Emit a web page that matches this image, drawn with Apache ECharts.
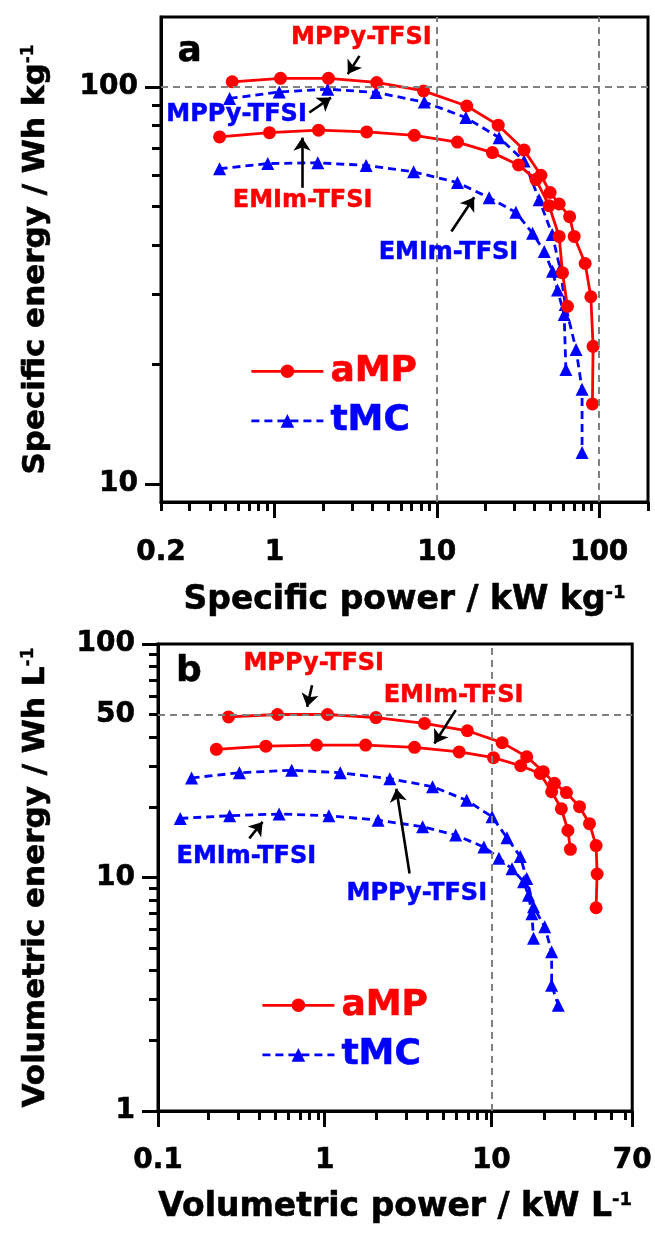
<!DOCTYPE html>
<html>
<head>
<meta charset="utf-8">
<script src="https://cdn.jsdelivr.net/npm/echarts@6/dist/echarts.min.js"></script>
<style>
  html, body { margin: 0; padding: 0; background: #fff; }
  #chart { width: 655px; height: 1234px; }
</style>
</head>
<body>
<div id="chart"></div>
<script>
// Ragone plots of aMP and tMC electrodes in two ionic liquids.
// (a) gravimetric, (b) volumetric.

// ---- tick labels ----
const powerLabelsA  = [0.2, 1, 10, 100];
const energyLabelsA = [10, 100];
const powerLabelsB  = [0.1, 1, 10, 70];
const energyLabelsB = [1, 10, 50, 100];

// ---- (a) [specific power kW/kg, specific energy Wh/kg] ----
const aMP_MPPy_mass = [[0.549,103.0],[1.09,105.1],[2.15,105.1],[4.26,102.6],[8.29,97.7],[15.3,89.5],[23.9,80.1],[34.5,69.3],[43.8,59.9],[49.9,54.2],[56.7,50.7],[65.8,47.1],[70.2,42.0],[82.0,35.9],[88.9,29.6],[91.8,22.2],[90.9,15.9]];
const aMP_EMIm_mass = [[0.459,74.8],[0.932,76.7],[1.87,77.8],[3.70,77.0],[7.27,75.5],[13.4,72.6],[22.0,68.3],[31.9,63.6],[40.8,58.4],[49.2,50.2],[56.7,42.0],[59.5,34.0],[63.8,28.0]];
const tMC_MPPy_mass = [[0.529,93.5],[1.07,97.1],[2.13,98.7],[4.22,96.8],[8.38,91.6],[15.1,83.7],[24.2,74.5],[34.5,65.1],[42.7,52.0],[51.4,42.5],[57.6,34.7],[61.8,28.3],[72.1,21.8],[78.5,17.3],[78.5,12.0]];
const tMC_EMIm_mass = [[0.459,62.2],[0.909,64.1],[1.85,64.4],[3.67,63.4],[7.20,61.1],[13.4,57.4],[21.0,52.6],[30.7,48.3],[38.9,42.8],[45.9,38.5],[51.6,34.3],[55.4,30.8],[60.9,26.7],[62.4,19.4]];

// ---- (b) [volumetric power kW/L, volumetric energy Wh/L] ----
const aMP_MPPy_vol = [[0.265,48.7],[0.521,49.9],[1.04,49.9],[2.03,48.4],[3.97,45.7],[7.18,42.5],[11.6,37.8],[16.3,32.9],[20.5,28.4],[23.9,25.3],[28.2,23.1],[33.8,20.1],[38.8,17.0],[42.5,13.7],[43.1,10.35],[42.5,7.42]];
const aMP_EMIm_vol = [[0.224,35.4],[0.444,36.5],[0.893,36.9],[1.76,36.9],[3.46,36.1],[6.41,34.5],[10.3,32.6],[15.0,30.1],[19.6,27.9],[23.0,23.3],[26.3,19.7],[28.8,15.9],[29.8,13.2]];
const tMC_MPPy_vol = [[0.159,26.7],[0.308,28.1],[0.634,28.8],[1.24,28.1],[2.46,26.5],[4.44,24.5],[7.11,21.4],[10.1,18.2],[12.4,14.8],[14.9,12.3],[16.3,9.9],[17.9,7.5],[20.9,6.15],[23.0,4.81],[23.0,3.46],[25.2,2.84]];
const tMC_EMIm_vol = [[0.136,17.9],[0.269,18.4],[0.533,18.7],[1.06,18.4],[2.09,17.6],[3.87,16.5],[6.11,15.2],[9.02,13.5],[11.1,12.1],[13.3,10.9],[15.6,9.6],[16.7,8.4],[17.5,7.0],[17.9,5.5]];

// ---- styling ----
const FONT = '"DejaVu Sans", sans-serif';
const RED = '#ff0000', BLUE = '#0000ff', GUIDE = '#808080';

function minorTicks(lo, hi, decades) {
  const out = [];
  decades.forEach(d => {
    for (let k = 2; k <= 9; k++) {
      const v = +(k * Math.pow(10, d)).toPrecision(3);
      if (v >= lo - 1e-9 && v <= hi + 1e-9) out.push(v);
    }
  });
  return out;
}

const tickLabel = { fontFamily: FONT, fontSize: 28, fontWeight: 'bold', color: '#000',
  textBorderColor: '#000', textBorderWidth: 0.6 };
function titleStyle(size) {
  return {
    fontFamily: FONT, fontSize: size, fontWeight: 'bold', color: '#000',
    textBorderColor: '#000', textBorderWidth: 0.6,
    rich: { sup: { fontFamily: FONT, fontSize: Math.round(size * 0.55), fontWeight: 'bold', color: '#000',
      textBorderColor: '#000', textBorderWidth: 0.4, verticalAlign: 'top', lineHeight: size } }
  };
}
const axisLine = { show: true, lineStyle: { color: '#000', width: 3 } };

function mainAxis(grid, min, max, labels, majors, extra, labelMargin, titleSize) {
  return Object.assign({
    gridIndex: grid, type: 'log', logBase: 10, min: min, max: max,
    axisLine: axisLine,
    axisTick: { show: true, customValues: majors, length: 16, lineStyle: { color: '#000', width: 3 } },
    axisLabel: Object.assign({ customValues: labels, margin: labelMargin }, tickLabel),
    splitLine: { show: false },
    nameLocation: 'middle',
    nameTextStyle: titleStyle(titleSize)
  }, extra);
}
function minorAxis(grid, min, max, minors) {
  return {
    gridIndex: grid, type: 'log', logBase: 10, min: min, max: max,
    axisLine: { show: false },
    axisTick: { show: true, customValues: minors, length: 9, lineStyle: { color: '#000', width: 3 } },
    axisLabel: { show: false },
    splitLine: { show: false }
  };
}

const gridA = { left: 161, top: 17, width: 487, height: 485 };
const gridB = { left: 158, top: 644, width: 478, height: 467 };
const frame = { show: true, borderColor: '#000', borderWidth: 3, backgroundColor: 'transparent' };

function curve(name, data, xi, yi, color, dashed) {
  return {
    name: name, type: 'line', xAxisIndex: xi, yAxisIndex: yi, data: data,
    symbol: dashed ? 'triangle' : 'circle',
    symbolSize: dashed ? 13 : 13,
    showSymbol: true,
    lineStyle: { color: color, width: 2.8, type: dashed ? [8, 5] : 'solid' },
    itemStyle: { color: color },
    z: dashed ? 3 : 4,
    animation: false
  };
}

// guide lines (dashed) and black arrows, in data coordinates
function guides(xi, yi, lines, arrows) {
  const data = lines.slice();
  arrows.forEach(a => data.push([
    { coord: a[0], symbol: 'none', lineStyle: { color: '#000', type: 'solid', width: 2.6 } },
    { coord: a[1], symbol: 'arrow', symbolSize: 13 }
  ]));
  return {
    type: 'line', xAxisIndex: xi, yAxisIndex: yi, data: [], animation: false, silent: true,
    markLine: {
      silent: true, symbol: 'none', animation: false, precision: 6,
      label: { show: false },
      lineStyle: { color: GUIDE, type: [7, 5], width: 2 },
      emphasis: { disabled: true },
      data: data
    }
  };
}

// text notes placed at data coordinates
function notes(xi, yi, items) {
  return {
    type: 'scatter', xAxisIndex: xi, yAxisIndex: yi, symbolSize: 0, silent: true, animation: false, z: 6,
    itemStyle: { opacity: 1 },
    data: items.map(t => ({
      value: t.at, name: t.text,
      label: {
        show: true, formatter: '{b}', position: [0, 0], align: 'center', verticalAlign: 'middle',
        fontFamily: FONT, fontWeight: 'bold', fontSize: t.size, color: t.color, opacity: 1,
        textBorderColor: t.color, textBorderWidth: 0.5
      }
    }))
  };
}

function legendFor(left, top) {
  return {
    left: left, top: top, orient: 'vertical', itemWidth: 72, itemHeight: 17, itemGap: 13,
    selectedMode: false,
    lineStyle: { width: 2.8 },
    textStyle: { fontFamily: FONT, fontSize: 36, fontWeight: 'bold', padding: [0, 0, 0, 2] },
    data: [
      { name: 'aMP', textStyle: { color: RED, textBorderColor: RED, textBorderWidth: 0.6 } },
      { name: 'tMC', textStyle: { color: BLUE, textBorderColor: BLUE, textBorderWidth: 0.6 } }
    ]
  };
}

const option = {
  backgroundColor: '#fff',
  animation: false,
  grid: [
    Object.assign({}, gridA, frame),
    Object.assign({}, gridA, { show: false }),
    Object.assign({}, gridB, frame),
    Object.assign({}, gridB, { show: false })
  ],
  xAxis: [
    mainAxis(0, 0.2, 200, powerLabelsA, [1, 10, 100],
      { name: 'Specific power / kW kg{sup|-1}', nameGap: 82 }, 37, 33),
    minorAxis(1, 0.2, 200, [0.2].concat(minorTicks(0.2, 200, [-1, 0, 1]), [200])),
    mainAxis(2, 0.1, 70, powerLabelsB, [0.1, 1, 10, 70],
      { name: 'Volumetric power / kW L{sup|-1}', nameGap: 80 }, 36, 33),
    minorAxis(3, 0.1, 70, minorTicks(0.1, 69, [-1, 0, 1]))
  ],
  yAxis: [
    mainAxis(0, 9, 150, energyLabelsA, [10, 100],
      { name: 'Specific energy / Wh kg{sup|-1}', nameGap: 110, nameRotate: 90 }, 23, 31),
    minorAxis(1, 9, 150, minorTicks(9, 150, [1])),
    mainAxis(2, 1, 100, energyLabelsB, [1, 10, 100],
      { name: 'Volumetric energy / Wh L{sup|-1}', nameGap: 107, nameRotate: 90 }, 23, 31),
    minorAxis(3, 1, 100, minorTicks(1, 100, [0, 1]))
  ],
  legend: [legendFor(245, 348), legendFor(256, 982)],
  series: [
    guides(0, 0, [{ xAxis: 10 }, { xAxis: 100 }, { yAxis: 100 }], [
      [[3.34, 119.7], [2.83, 107.7]],
      [[1.64, 86.2], [2.23, 94.0]],
      [[1.48, 55.7], [1.48, 74.5]],
      [[12.3, 43.2], [17.0, 52.7]]
    ]),
    curve('tMC', tMC_EMIm_mass, 0, 0, BLUE, true),
    curve('tMC', tMC_MPPy_mass, 0, 0, BLUE, true),
    curve('aMP', aMP_EMIm_mass, 0, 0, RED, false),
    curve('aMP', aMP_MPPy_mass, 0, 0, RED, false),
    notes(0, 0, [
      { text: 'a', at: [0.30, 123], size: 36, color: '#000' },
      { text: 'MPPy-TFSI', at: [3.43, 132.8], size: 24, color: RED },
      { text: 'MPPy-TFSI', at: [0.584, 85.3], size: 24, color: BLUE },
      { text: 'EMIm-TFSI', at: [1.49, 51.8], size: 24, color: RED },
      { text: 'EMIm-TFSI', at: [11.8, 38.3], size: 24, color: BLUE }
    ]),

    guides(2, 2, [{ xAxis: 10 }, { yAxis: 50 }], [
      [[0.840, 66.6], [0.785, 53.8]],
      [[6.11, 52.1], [4.55, 37.5]],
      [[0.353, 14.7], [0.424, 17.3]],
      [[3.23, 10.4], [2.69, 24.0]]
    ]),
    curve('tMC', tMC_EMIm_vol, 2, 2, BLUE, true),
    curve('tMC', tMC_MPPy_vol, 2, 2, BLUE, true),
    curve('aMP', aMP_EMIm_vol, 2, 2, RED, false),
    curve('aMP', aMP_MPPy_vol, 2, 2, RED, false),
    notes(2, 2, [
      { text: 'b', at: [0.153, 76.2], size: 36, color: '#000' },
      { text: 'MPPy-TFSI', at: [0.860, 82.5], size: 24, color: RED },
      { text: 'EMIm-TFSI', at: [5.93, 60.2], size: 24, color: RED },
      { text: 'EMIm-TFSI', at: [0.339, 12.3], size: 24, color: BLUE },
      { text: 'MPPy-TFSI', at: [3.57, 8.54], size: 24, color: BLUE }
    ])
  ]
};

const chart = echarts.init(document.getElementById('chart'), null, { renderer: 'canvas' });
chart.setOption(option);
</script>
</body>
</html>
